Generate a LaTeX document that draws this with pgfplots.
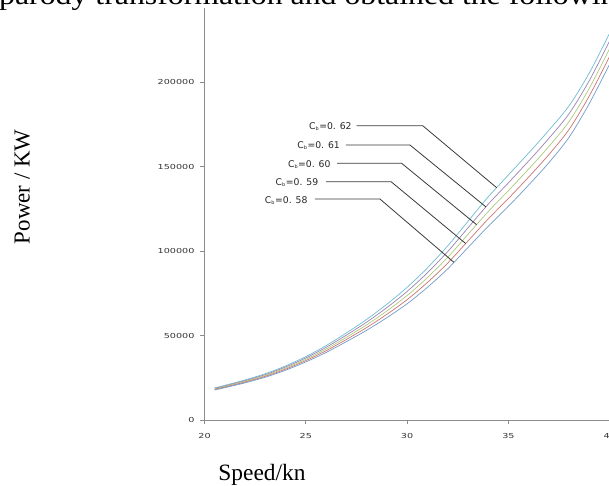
\documentclass[border=0pt]{standalone}
\usepackage{fontspec}
\setmainfont{Liberation Serif}
\newfontfamily\tickfont[FakeStretch=1.4]{DejaVu Sans}
\newfontfamily\labfont{DejaVu Sans}
\usepackage{pgfplots}
\usepackage{pgfplotstable}
\pgfplotsset{compat=1.18}
\definecolor{cA}{HTML}{4BACC6}
\definecolor{cP}{HTML}{8064A2}
\definecolor{cG}{HTML}{9BBB59}
\definecolor{cR}{HTML}{C0504D}
\definecolor{cB}{HTML}{4F81BD}
\definecolor{axgray}{HTML}{8C8C8C}
\definecolor{leader}{HTML}{3A3A3A}
\pgfplotstableread{
v     c62    c61    c60    c59    c58
20.5  19000  18700  18390  18090  17780
21    20500  20150  19800  19455  19105
22    23700  23270  22850  22420  21995
23    27400  26880  26360  25840  25320
24    32000  31360  30720  30080  29440
25    37500  36710  35925  35140  34350
26    44000  42990  41975  40965  39950
27    51500  50210  48925  47640  46350
28    59500  57895  56285  54680  53075
29    68500  66515  64525  62540  60555
30    78500  76065  73635  71200  68765
31    90000  87120  84240  81360  78480
32   103000  99600  96200  92800  89405
33   117500 113625 109745 105870 101990
34   132000 127645 123290 118930 114575
35   145000 140360 135720 131080 126440
36   158000 153260 148520 143780 139040
37   171500 166700 161895 157095 152290
38   186000 181350 176700 172050 167400
39   205500 200980 196460 191940 187420
40   229000 224420 219840 215260 210680
}\curves
\begin{document}
\begin{tikzpicture}[x=1bp,y=1bp]
\useasboundingbox (0,0) rectangle (609,486);
\clip (0,0) rectangle (609,486);
\node[anchor=base west,inner sep=0pt,font=\fontsize{28}{30}\selectfont] at (-1,481)
  {\scalebox{1.14}[1]{parody transformation and obtained the following}};
\begin{axis}[
  at={(204.5bp,66bp)}, anchor=south west,
  scale only axis, width=405.2bp, height=412bp,
  xmin=20, xmax=40, ymin=0, ymax=243800,
  axis lines=left, axis line style={-, draw=axgray, line width=0.8bp},
  xtick={20,25,30,35,40}, ytick={0,50000,100000,150000,200000},
  tick style={draw=axgray, line width=0.8bp},
  tick align=outside, major tick length=4.5bp,
  scaled y ticks=false,
  yticklabel style={/pgf/number format/fixed, /pgf/number format/1000 sep={}, font=\tickfont\fontsize{6.9}{8}\selectfont, text=black!80, xshift=-2bp},
  xticklabel style={font=\tickfont\fontsize{6.9}{8}\selectfont, text=black!80, yshift=-5bp},
  /pgf/number format/assume math mode=true,
  clip=false,
  every axis plot/.append style={no marks, smooth, tension=0.5, line width=0.7bp},
]
\addplot[cA!80!white] table[x=v,y=c62] {\curves};
\addplot[cP!80!white] table[x=v,y=c61] {\curves};
\addplot[cG!80!white] table[x=v,y=c60] {\curves};
\addplot[cR!80!white] table[x=v,y=c59] {\curves};
\addplot[cB!80!white] table[x=v,y=c58] {\curves};
% leaders
\draw[leader, line width=0.8bp] (axis cs:27.51,174140) -- (axis cs:30.77,174140) -- (axis cs:34.42,137460);
\draw[leader, line width=0.8bp] (axis cs:26.98,162720) -- (axis cs:30.14,162720) -- (axis cs:33.89,126100);
\draw[leader, line width=0.8bp] (axis cs:26.54,151890) -- (axis cs:29.73,151890) -- (axis cs:33.43,115570);
\draw[leader, line width=0.8bp] (axis cs:26.00,141000) -- (axis cs:29.21,141000) -- (axis cs:32.89,104430);
\draw[leader, line width=0.8bp] (axis cs:25.45,130760) -- (axis cs:28.66,130760) -- (axis cs:32.31,93300);
\node[anchor=east, inner sep=0pt, font=\labfont\fontsize{9.3}{10}\selectfont, text=black!85] at (axis cs:27.27,173500) {C\textsubscript{\fontsize{5}{5}\selectfont b}=0. 62};
\node[anchor=east, inner sep=0pt, font=\labfont\fontsize{9.3}{10}\selectfont, text=black!85] at (axis cs:26.69,162100) {C\textsubscript{\fontsize{5}{5}\selectfont b}=0. 61};
\node[anchor=east, inner sep=0pt, font=\labfont\fontsize{9.3}{10}\selectfont, text=black!85] at (axis cs:26.23,151200) {C\textsubscript{\fontsize{5}{5}\selectfont b}=0. 60};
\node[anchor=east, inner sep=0pt, font=\labfont\fontsize{9.3}{10}\selectfont, text=black!85] at (axis cs:25.62,140400) {C\textsubscript{\fontsize{5}{5}\selectfont b}=0. 59};
\node[anchor=east, inner sep=0pt, font=\labfont\fontsize{9.3}{10}\selectfont, text=black!85] at (axis cs:25.09,130100) {C\textsubscript{\fontsize{5}{5}\selectfont b}=0. 58};
\node[rotate=90, font=\fontsize{23}{25}\selectfont] at (rel axis cs:-0.450,0.566) {Power / KW};
\node[font=\fontsize{23.5}{25}\selectfont] at (rel axis cs:0.142,-0.133) {Speed/kn};
\end{axis}
\end{tikzpicture}
\end{document}
